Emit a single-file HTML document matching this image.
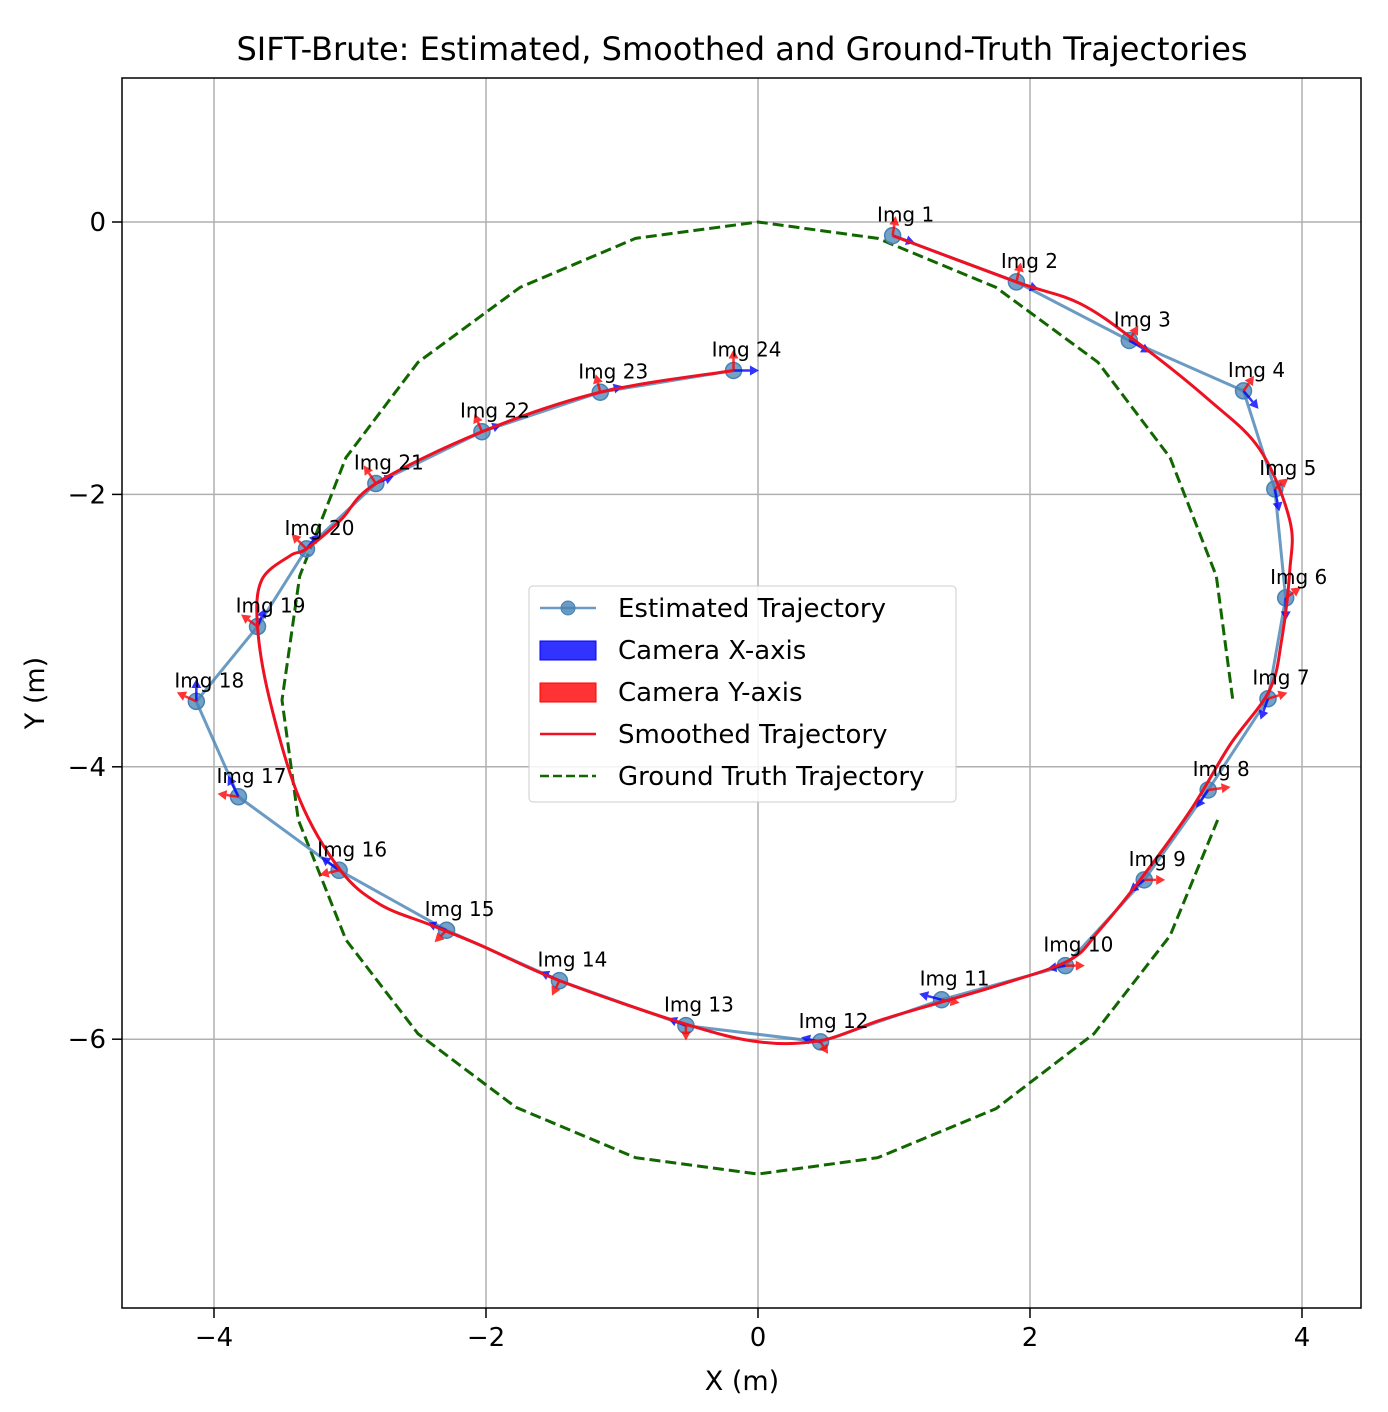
<!DOCTYPE html>
<html><head><meta charset="utf-8"><style>
body{margin:0;background:#fff;}
svg{display:block;font-family:"DejaVu Sans","Liberation Sans",sans-serif;}
</style></head><body>
<svg id="chart" width="1388" height="1412" viewBox="0 0 1388 1412">
<rect x="0" y="0" width="1388" height="1412" fill="#fff"/>
<text x="742" y="60" font-size="32" text-anchor="middle">SIFT-Brute: Estimated, Smoothed and Ground-Truth Trajectories</text>
<g id="grid"></g>
<g id="gt"></g>
<g id="est"></g>
<g id="arrows"></g>
<g id="smooth"></g>
<g id="labels"></g>
<rect x="122" y="78" width="1239" height="1230" fill="none" stroke="#000" stroke-width="1.5"/>
<g id="ticks"></g>
<text x="742" y="1390" font-size="27" text-anchor="middle">X (m)</text>
<text x="44" y="693" font-size="27" text-anchor="middle" transform="rotate(-90 44 693)">Y (m)</text>
<g>
<rect x="529" y="586" width="427" height="216" rx="4" fill="#fff" fill-opacity="0.85" stroke="#ccc"/>
<g><line x1="540" y1="608" x2="596" y2="608" stroke="#4682b4" stroke-opacity="0.8" stroke-width="2.5"/><circle cx="568" cy="608" r="7" fill="#4682b4" fill-opacity="0.8" stroke="#4682b4"/><text x="618" y="617" font-size="26">Estimated Trajectory</text></g>
<g><rect x="540" y="641" width="56" height="19" fill="#0000ff" fill-opacity="0.8" stroke="#0000ff"/><text x="618" y="659" font-size="26">Camera X-axis</text></g>
<g><rect x="540" y="683" width="56" height="19" fill="#ff0000" fill-opacity="0.8" stroke="#ff0000"/><text x="618" y="701" font-size="26">Camera Y-axis</text></g>
<g><line x1="540" y1="734" x2="596" y2="734" stroke="#ee1122" stroke-width="2.5"/><text x="618" y="743" font-size="26">Smoothed Trajectory</text></g>
<g><line x1="540" y1="776" x2="596" y2="776" stroke="#116600" stroke-width="2.5" stroke-dasharray="9,4"/><text x="618" y="785" font-size="26">Ground Truth Trajectory</text></g>
</g>
</svg>
<script>
const estX=[0.99,1.90,2.73,3.57,3.80,3.88,3.75,3.31,2.84,2.26,1.35,0.46,-0.53,-1.46,-2.29,-3.08,-3.82,-4.13,-3.68,-3.32,-2.81,-2.03,-1.16,-0.18];
const estY=[-0.10,-0.44,-0.87,-1.24,-1.96,-2.76,-3.50,-4.17,-4.83,-5.46,-5.71,-6.02,-5.90,-5.57,-5.20,-4.76,-4.22,-3.52,-2.97,-2.40,-1.92,-1.54,-1.25,-1.09];
const camXdx=[0.15,0.15,0.14,0.1,0.03,0,-0.05,-0.08,-0.1,-0.12,-0.15,-0.13,-0.12,-0.13,-0.13,-0.12,-0.07,0,0.05,0.08,0.12,0.13,0.15,0.17];
const camXdy=[-0.05,-0.05,-0.08,-0.12,-0.15,-0.15,-0.14,-0.12,-0.08,-0.02,0.04,0.03,0.05,0.06,0.05,0.09,0.14,0.15,0.12,0.1,0.05,0.05,0.04,0];
const camYdx=[0.02,0.03,0.06,0.07,0.09,0.1,0.13,0.15,0.14,0.13,0.12,0.05,0,-0.05,-0.08,-0.13,-0.14,-0.13,-0.11,-0.1,-0.08,-0.05,-0.03,0];
const camYdy=[0.13,0.13,0.1,0.1,0.07,0.07,0.04,0.02,0,0,-0.02,-0.08,-0.1,-0.1,-0.08,-0.03,0.02,0.06,0.08,0.1,0.12,0.12,0.12,0.14];
const gtX=[3.49,3.37,3.03,2.5,1.75,0.88,0,-0.9,-1.75,-2.5,-3.03,-3.37,-3.5,-3.38,-3.03,-2.5,-1.78,-0.9,0,0.88,1.75,2.47,3.03,3.38];
const gtY=[-3.5,-2.6,-1.73,-1.03,-0.48,-0.12,0,-0.12,-0.48,-1.03,-1.73,-2.6,-3.51,-4.39,-5.27,-5.96,-6.5,-6.87,-6.99,-6.87,-6.51,-5.96,-5.24,-4.39];
const smX=[0.99,1.9,2.37,2.81,3.32,3.69,3.91,3.91,3.85,3.76,3.47,3.18,2.81,2.51,2.29,1.78,1.34,0.90,0.46,0.01,-0.53,-1.46,-2.04,-2.41,-2.78,-3.07,-3.37,-3.59,-3.68,-3.65,-3.44,-3.32,-3.07,-2.81,-2.03,-1.16,-0.18];
const smY=[-0.10,-0.44,-0.60,-0.90,-1.31,-1.67,-2.19,-2.56,-3.07,-3.44,-3.84,-4.32,-4.83,-5.2,-5.42,-5.60,-5.73,-5.86,-6.01,-6.02,-5.89,-5.57,-5.31,-5.16,-5.01,-4.76,-4.24,-3.51,-2.97,-2.63,-2.45,-2.40,-2.19,-1.92,-1.54,-1.25,-1.09];
const xTicks=[-4,-2,0,2,4];
const yTicks=[0,-2,-4,-6];
const NS='http://www.w3.org/2000/svg';
const sx=v=>758+v*136;
const sy=v=>222-v*136.2;
function mk(tag,attrs,parent){const e=document.createElementNS(NS,tag);for(const k in attrs)e.setAttribute(k,attrs[k]);document.getElementById(parent).appendChild(e);return e;}
xTicks.forEach(t=>{
  const g=mk('line',{x1:sx(t),x2:sx(t),y1:78,y2:1308,stroke:'#b0b0b0','stroke-width':1.5},'grid');
  
  
  const tk=mk('line',{x1:sx(t),x2:sx(t),y1:1308,y2:1318,stroke:'#000','stroke-width':1.5},'ticks');
  
  
  const tl=mk('text',{x:sx(t),y:1346,'font-size':26,'text-anchor':'middle'},'ticks');
  tl.textContent=(t<0?'\u2212'+(-t):''+t);
  
  
});
yTicks.forEach(t=>{
  const g=mk('line',{x1:122,x2:1361,y1:sy(t),y2:sy(t),stroke:'#b0b0b0','stroke-width':1.5},'grid');
  
  
  const tk=mk('line',{x1:112,x2:122,y1:sy(t),y2:sy(t),stroke:'#000','stroke-width':1.5},'ticks');
  
  
  const tl=mk('text',{x:106,y:sy(t)+9,'font-size':26,'text-anchor':'end'},'ticks');
  tl.textContent=(t<0?'\u2212'+(-t):''+t);
  
  
});
const gtl=mk('polyline',{points:gtX.map((x,i)=>sx(x)+','+sy(gtY[i])).join(' '),fill:'none',stroke:'#116600','stroke-width':3,'stroke-dasharray':'11,5'},'gt');


const el=mk('polyline',{points:estX.map((x,i)=>sx(x)+','+sy(estY[i])).join(' '),fill:'none',stroke:'#4682b4','stroke-opacity':0.8,'stroke-width':3},'est');


estX.forEach((x,i)=>{
  const c=mk('circle',{cx:sx(x),cy:sy(estY[i]),r:8,fill:'#4682b4','fill-opacity':0.75,stroke:'#4682b4','stroke-width':1.5},'est');
  
  
});
function arrow(x,y,dx,dy,col,name){
  const k=1.1;
  const x1=sx(x),y1=sy(y),x2=sx(x+dx*k),y2=sy(y+dy*k);
  const L=Math.hypot(x2-x1,y2-y1)||1,ux=(x2-x1)/L,uy=(y2-y1)/L,h=9,w=5;
  const g=mk('g',{},'arrows');
  
  
  const l=document.createElementNS(NS,'line');
  l.setAttribute('x1',x1);l.setAttribute('y1',y1);l.setAttribute('x2',x2-ux*h);l.setAttribute('y2',y2-uy*h);
  l.setAttribute('stroke',col);l.setAttribute('stroke-width',2.5);l.setAttribute('stroke-opacity',0.8);
  g.appendChild(l);
  const p=document.createElementNS(NS,'polygon');
  const bx=x2-ux*h,by=y2-uy*h;
  p.setAttribute('points',x2+','+y2+' '+(bx-uy*w)+','+(by+ux*w)+' '+(bx+uy*w)+','+(by-ux*w));
  p.setAttribute('fill',col);p.setAttribute('fill-opacity',0.8);
  g.appendChild(p);
}
estX.forEach((x,i)=>{arrow(x,estY[i],camXdx[i],camXdy[i],'#0000ff','camera-x-arrow');arrow(x,estY[i],camYdx[i],camYdy[i],'#ff0000','camera-y-arrow');});
const P=smX.map((x,i)=>[sx(x),sy(smY[i])]);
let d='M'+P[0][0]+','+P[0][1];
for(let i=0;i<P.length-1;i++){
  const p0=P[Math.max(0,i-1)],p1=P[i],p2=P[i+1],p3=P[Math.min(P.length-1,i+2)];
  d+=' C'+(p1[0]+(p2[0]-p0[0])/6)+','+(p1[1]+(p2[1]-p0[1])/6)+' '+(p2[0]-(p3[0]-p1[0])/6)+','+(p2[1]-(p3[1]-p1[1])/6)+' '+p2[0]+','+p2[1];
}
const sm=mk('path',{d:d,fill:'none',stroke:'#ee1122','stroke-width':3},'smooth');


estX.forEach((x,i)=>{
  const t=mk('text',{x:sx(x)+13,y:sy(estY[i])-14,'font-size':20,'text-anchor':'middle'},'labels');
  t.textContent='Img '+(i+1);
  
  
});
</script>
</body></html>
